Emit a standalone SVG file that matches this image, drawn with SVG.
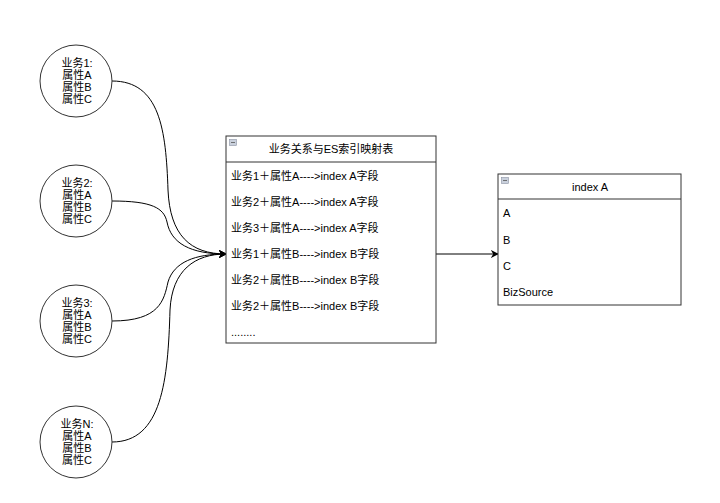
<svg xmlns="http://www.w3.org/2000/svg" width="720" height="503" viewBox="0 0 720 503">
<defs>
<style>
text{font-family:"Liberation Sans","Noto Sans CJK SC",sans-serif;font-size:11px;fill:#000}
.c{text-anchor:middle}
.box{fill:#fff;stroke:#333;stroke-width:1}
.edge{fill:none;stroke:#000;stroke-width:1}
.ico{fill:#c9d0dc;stroke:#8a93a3;stroke-width:0.6}
</style>
<marker id="ah" viewBox="0 0 10 10" refX="9" refY="5" markerWidth="8" markerHeight="8" markerUnits="userSpaceOnUse" orient="auto">
<path d="M0,0 L10,5 L0,10 L3,5 Z" fill="#000"/>
</marker>
</defs>
<rect width="720" height="503" fill="#fff"/>
<g id="connectors">
<path class="edge" marker-end="url(#ah)" d="M112,81 C160,81 166,130 168,190 C170,235 190,254 226,254"/>
<path class="edge" marker-end="url(#ah)" d="M112,201 C152,201 164,208 167,222 C171,243 190,254 226,254"/>
<path class="edge" marker-end="url(#ah)" d="M112,321 C160,321 164,300 168,282 C174,262 195,254 226,254"/>
<path class="edge" marker-end="url(#ah)" d="M112,442 C162,442 168,380 170,310 C172,270 195,254 226,254"/>
<path class="edge" marker-end="url(#ah)" d="M436,254 L498,254"/>
</g>
<g id="biz1">
<circle class="box" cx="76" cy="81" r="36"/>
<text class="c" x="77" y="67">业务1:</text>
<text class="c" x="77" y="79">属性A</text>
<text class="c" x="77" y="91">属性B</text>
<text class="c" x="77" y="103">属性C</text>
</g>
<g id="biz2">
<circle class="box" cx="76" cy="201" r="36"/>
<text class="c" x="77" y="187">业务2:</text>
<text class="c" x="77" y="199">属性A</text>
<text class="c" x="77" y="211">属性B</text>
<text class="c" x="77" y="223">属性C</text>
</g>
<g id="biz3">
<circle class="box" cx="76" cy="321" r="36"/>
<text class="c" x="77" y="307">业务3:</text>
<text class="c" x="77" y="319">属性A</text>
<text class="c" x="77" y="331">属性B</text>
<text class="c" x="77" y="343">属性C</text>
</g>
<g id="bizN">
<circle class="box" cx="76" cy="442" r="36"/>
<text class="c" x="77" y="428">业务N:</text>
<text class="c" x="77" y="440">属性A</text>
<text class="c" x="77" y="452">属性B</text>
<text class="c" x="77" y="464">属性C</text>
</g>
<g id="mapping">
<rect class="box" x="226" y="136" width="210" height="207"/>
<line x1="226" y1="162" x2="436" y2="162" stroke="#333"/>
<rect class="ico" x="229.5" y="139.5" width="7" height="6"/>
<line x1="231" y1="142.5" x2="235" y2="142.5" stroke="#555" stroke-width="0.8"/>
<text class="c" x="331" y="153">业务关系与ES索引映射表</text>
<text x="231" y="180">业务1＋属性A----&gt;index A字段</text>
<text x="231" y="206">业务2＋属性A----&gt;index A字段</text>
<text x="231" y="232">业务3＋属性A----&gt;index A字段</text>
<text x="231" y="258">业务1＋属性B----&gt;index B字段</text>
<text x="231" y="284">业务2＋属性B----&gt;index B字段</text>
<text x="231" y="310">业务2＋属性B----&gt;index B字段</text>
<text x="231" y="336">........</text>
</g>
<g id="indexA">
<rect class="box" x="498" y="174" width="183" height="131"/>
<line x1="498" y1="199" x2="681" y2="199" stroke="#333"/>
<rect class="ico" x="501.5" y="177.5" width="7" height="6"/>
<line x1="503" y1="180.5" x2="507" y2="180.5" stroke="#555" stroke-width="0.8"/>
<text class="c" x="590" y="191">index A</text>
<text x="503" y="217">A</text>
<text x="503" y="244">B</text>
<text x="503" y="270">C</text>
<text x="503" y="296">BizSource</text>
</g>
</svg>
